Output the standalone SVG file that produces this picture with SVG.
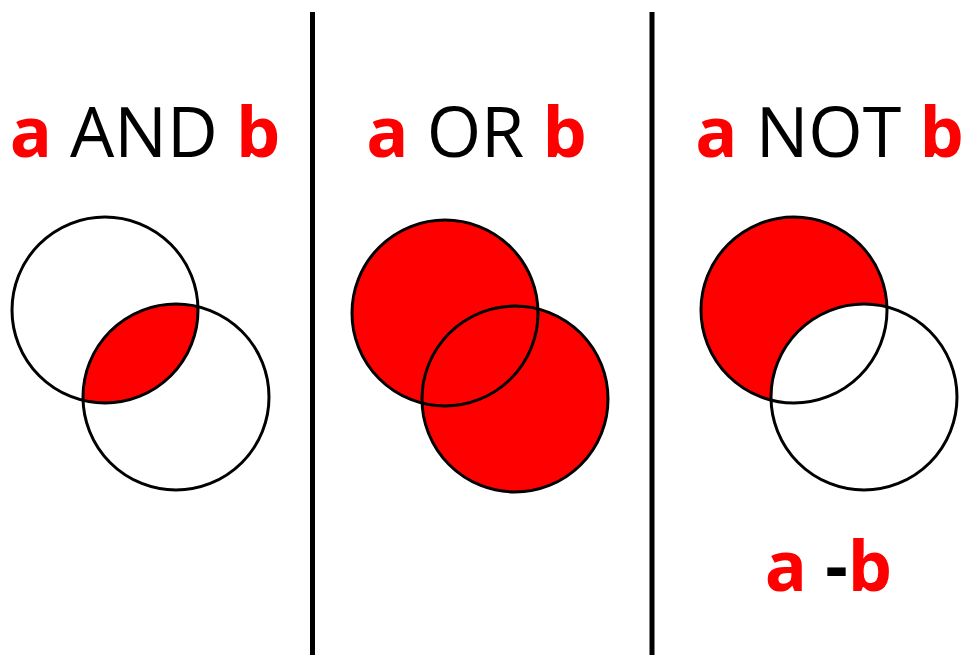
<svg xmlns="http://www.w3.org/2000/svg" width="967" height="655" viewBox="0 0 967 655">
<style>
.t{font-family:"Open Sans","Noto Sans",sans-serif;font-size:70px;fill:#000}
.r{fill:#ff0000;font-weight:bold}
.k{font-weight:bold}
.c{fill:none;stroke:#000;stroke-width:3}
.div{stroke:#000;stroke-width:5}
</style>
<defs>
<clipPath id="clipA1"><circle cx="105" cy="310" r="93"/></clipPath>
</defs>
<rect width="967" height="655" fill="#fff"/>
<g id="dividers">
<line class="div" x1="312.5" y1="12" x2="312.5" y2="655"/>
<line class="div" x1="652" y1="12" x2="652" y2="655"/>
</g>
<g id="and">
<text class="t" x="145" y="157" text-anchor="middle"><tspan class="r">a</tspan> AND <tspan class="r">b</tspan></text>
<circle cx="176" cy="397" r="93" fill="#ff0000" clip-path="url(#clipA1)"/>
<circle class="c" cx="105" cy="310" r="93"/>
<circle class="c" cx="176" cy="397" r="93"/>
</g>
<g id="or">
<text class="t" x="476.5" y="157" text-anchor="middle"><tspan class="r">a</tspan> OR <tspan class="r">b</tspan></text>
<circle cx="445" cy="313" r="93" fill="#ff0000"/>
<circle cx="515" cy="399" r="93" fill="#ff0000"/>
<circle class="c" cx="445" cy="313" r="93"/>
<circle class="c" cx="515" cy="399" r="93"/>
</g>
<g id="not">
<text class="t" x="829.5" y="157" text-anchor="middle"><tspan class="r">a</tspan> NOT <tspan class="r">b</tspan></text>
<circle cx="794" cy="310" r="93" fill="#ff0000"/>
<circle cx="864" cy="397" r="93" fill="#fff"/>
<circle class="c" cx="794" cy="310" r="93"/>
<circle class="c" cx="864" cy="397" r="93"/>
<text class="t" x="828.5" y="591" text-anchor="middle"><tspan class="r">a</tspan> <tspan class="k">-</tspan><tspan class="r">b</tspan></text>
</g>
</svg>
